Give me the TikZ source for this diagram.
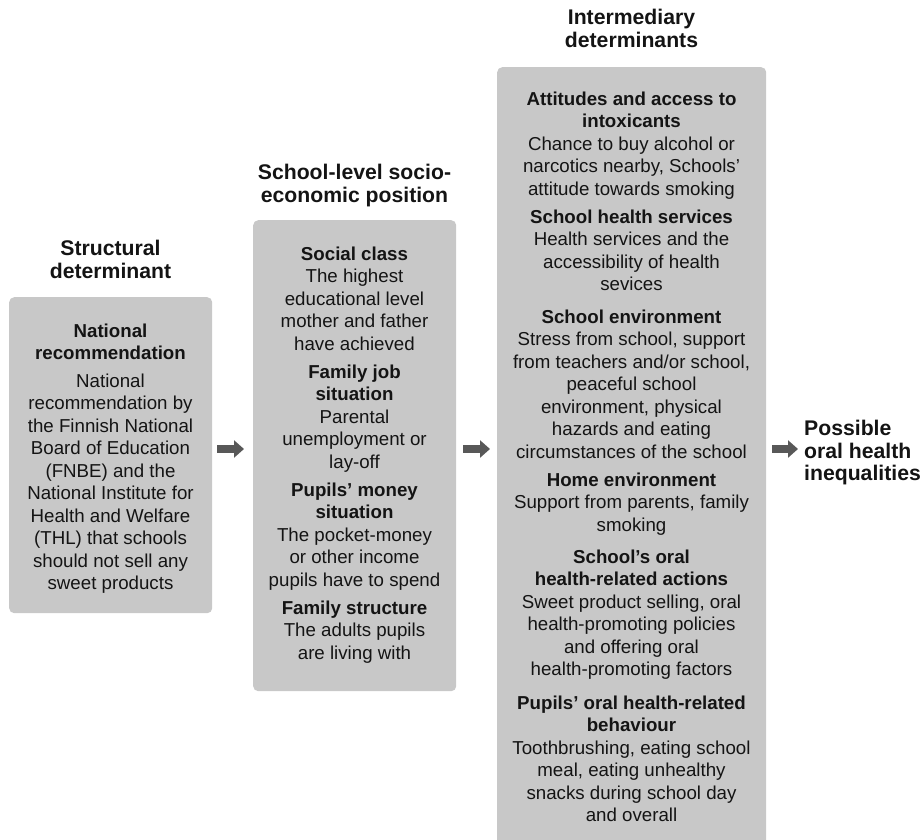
\documentclass[tikz,border=0pt]{standalone}
\usepackage{fontspec}
\setmainfont{Liberation Sans}
\usetikzlibrary{arrows.meta}
\definecolor{boxgray}{RGB}{200,200,200}
\definecolor{arrowgray}{RGB}{88,88,88}
\definecolor{txt}{RGB}{20,20,20}
\begin{document}
\begin{tikzpicture}[x=1pt,y=-1pt,
  panel/.style={fill=boxgray, rounded corners=5pt, draw=none, inner sep=0pt, anchor=north west},
  txtnode/.style={anchor=north, align=center, inner sep=0pt, font=\fontsize{18.7}{22.5}\selectfont, text=txt},
  colhead/.style={anchor=north, align=center, inner sep=0pt, font=\fontsize{21.2}{22.8}\selectfont\bfseries, text=txt},
  blockarrow/.style={draw=arrowgray, fill=arrowgray, line width=8.5pt, -{Triangle[length=10pt,width=17pt]}}]
\useasboundingbox (0,0) rectangle (922,840);
% panels
\node[panel, minimum width=203pt, minimum height=316pt] (b1) at (9,297) {};
\node[panel, minimum width=203pt, minimum height=471pt] (b2) at (253,220) {};
\node[panel, minimum width=269pt, minimum height=790pt] (b3) at (497,67) {};
% column headings
\node[colhead] (h1) at (110.5,239.8) {Structural\\determinant};
\node[colhead] (h2) at (354.5,163.8) {School-level socio-\\economic position};
\node[colhead] (h3) at (631.5,8.8) {Intermediary\\determinants};
\node[colhead, anchor=north west, align=left] (out) at (804,419.8) {Possible\\oral health\\inequalities};
% box 1
\node[txtnode, font=\fontsize{18.7}{22.5}\selectfont\bfseries] (b1h) at (110.5,323.6) {National\\recommendation};
\node[txtnode] (b1t) at (110.5,373.6) {National\\recommendation by\\the Finnish National\\Board of Education\\(FNBE) and the\\National Institute for\\Health and Welfare\\(THL) that schools\\should not sell any\\sweet products};
% box 2
\node[txtnode] (s1) at (354.5,246.6) {\textbf{Social class}\\The highest\\educational level\\mother and father\\have achieved};
\node[txtnode] (s2) at (354.5,364.6) {\textbf{Family job}\\\textbf{situation}\\Parental\\unemployment or\\lay-off};
\node[txtnode] (s3) at (354.5,482.6) {\textbf{Pupils’ money}\\\textbf{situation}\\The pocket-money\\or other income\\pupils have to spend};
\node[txtnode] (s4) at (354.5,600.6) {\textbf{Family structure}\\The adults pupils\\are living with};
% box 3
\node[txtnode] (i1) at (631.5,91.6) {\textbf{Attitudes and access to}\\\textbf{intoxicants}\\Chance to buy alcohol or\\narcotics nearby, Schools’\\attitude towards smoking};
\node[txtnode] (i2) at (631.5,209.6) {\textbf{School health services}\\Health services and the\\accessibility of health\\sevices};
\node[txtnode] (i3) at (631.5,309.6) {\textbf{School environment}\\Stress from school, support\\from teachers and/or school,\\peaceful school\\environment, physical\\hazards and eating\\circumstances of the school};
\node[txtnode] (i4) at (631.5,472.6) {\textbf{Home environment}\\Support from parents, family\\smoking};
\node[txtnode] (i5) at (631.5,549.6) {\textbf{School’s oral}\\\textbf{health-related actions}\\Sweet product selling, oral\\health-promoting policies\\and offering oral\\health-promoting factors};
\node[txtnode] (i6) at (631.5,695.6) {\textbf{Pupils’ oral health-related}\\\textbf{behaviour}\\Toothbrushing, eating school\\meal, eating unhealthy\\snacks during school day\\and overall};
% arrows
\coordinate (ay) at (0,449);
\draw[blockarrow, shorten <=5pt, shorten >=9pt] (b1.east |- ay) -- (b2.west |- ay);
\draw[blockarrow, shorten <=7pt, shorten >=7pt] (b2.east |- ay) -- (b3.west |- ay);
\draw[blockarrow, shorten <=6pt, shorten >=6pt] (b3.east |- ay) -- (out.west |- ay);
\end{tikzpicture}
\end{document}
